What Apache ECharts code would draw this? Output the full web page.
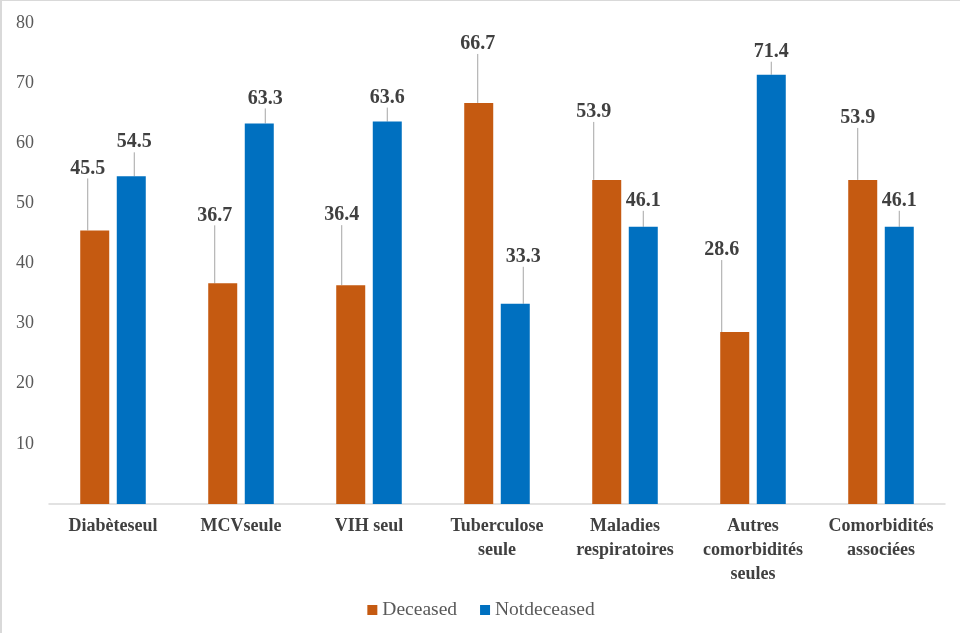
<!DOCTYPE html>
<html>
<head>
<meta charset="utf-8">
<script src="https://cdn.jsdelivr.net/npm/echarts@6/dist/echarts.min.js"></script>
<style>
html,body{margin:0;padding:0;background:#fff;}
#frame{position:absolute;left:0;top:0;width:958px;height:632px;border-left:2px solid #d9d9d9;border-top:1px solid #d9d9d9;}
#chart{width:958px;height:632px;}
</style>
</head>
<body>
<div id="frame"><div id="chart"></div></div>
<script>
const categories = ['Diabèteseul', 'MCVseule', 'VIH seul', 'Tuberculose\nseule', 'Maladies\nrespiratoires', 'Autres\ncomorbidités\nseules', 'Comorbidités\nassociées'];
const deceased = [45.5, 36.7, 36.4, 66.7, 53.9, 28.6, 53.9];
const notDeceased = [54.5, 63.3, 63.6, 33.3, 46.1, 71.4, 46.1];
const yTicks = [10, 20, 30, 40, 50, 60, 70, 80];

// label callout offsets (px): label centre relative to the bar's top-centre
const deceasedLabelDx = [-7, -8, -9, -1, -13, -13, -5];
const deceasedLabelDy = [-62, -68, -70, -59, -68, -82, -62];
const notDecLabelDx = [3, 6, 0, 8, 0, 0, 0];
const notDecLabelDy = [-34, -25, -24, -47, -26, -23, -26];

const serif = "'Liberation Serif', 'Times New Roman', serif";
const chart = echarts.init(document.getElementById('chart'));

function labelStyle() {
  return {
    show: true,
    position: 'top',
    distance: 5,
    fontFamily: serif,
    fontSize: 20,
    fontWeight: 'bold',
    color: '#404040'
  };
}
function labelLine() {
  return { show: true, lineStyle: { color: '#a6a6a6', width: 1 } };
}
function layoutFor(dxArr, dyArr) {
  return function (p) {
    const r = p.rect;
    return {
      x: r.x + r.width / 2 + dxArr[p.dataIndex],
      y: r.y + dyArr[p.dataIndex],
      align: 'center',
      verticalAlign: 'middle'
    };
  };
}

chart.setOption({
  animation: false,
  grid: { left: 47, right: 15, top: 22, bottom: 129 },
  legend: {
    data: ['Deceased', 'Notdeceased'],
    bottom: 8,
    left: 'center',
    itemWidth: 10,
    itemHeight: 10,
    itemGap: 23,
    icon: 'rect',
    textStyle: { fontFamily: serif, fontSize: 19.5, color: '#595959' }
  },
  xAxis: {
    type: 'category',
    data: categories,
    axisLine: { lineStyle: { color: '#d9d9d9', width: 1.5 } },
    axisTick: { show: false },
    axisLabel: {
      interval: 0,
      margin: 10,
      fontFamily: serif,
      fontSize: 18,
      fontWeight: 'bold',
      color: '#404040',
      lineHeight: 24
    }
  },
  yAxis: {
    type: 'value',
    min: 0,
    max: 80,
    interval: 10,
    axisLine: { show: false },
    axisTick: { show: false },
    splitLine: { show: false },
    axisLabel: {
      margin: 15,
      fontFamily: serif,
      fontSize: 18,
      color: '#595959',
      formatter: v => (yTicks.indexOf(v) >= 0 ? String(v) : '')
    }
  },
  series: [
    {
      name: 'Deceased',
      type: 'bar',
      data: deceased,
      barWidth: 29,
      barGap: '26%',
      itemStyle: { color: '#C55A11' },
      label: labelStyle(),
      labelLine: labelLine(),
      labelLayout: layoutFor(deceasedLabelDx, deceasedLabelDy)
    },
    {
      name: 'Notdeceased',
      type: 'bar',
      data: notDeceased,
      barWidth: 29,
      barGap: '26%',
      itemStyle: { color: '#0070C0' },
      label: labelStyle(),
      labelLine: labelLine(),
      labelLayout: layoutFor(notDecLabelDx, notDecLabelDy)
    }
  ]
});
</script>
</body>
</html>
